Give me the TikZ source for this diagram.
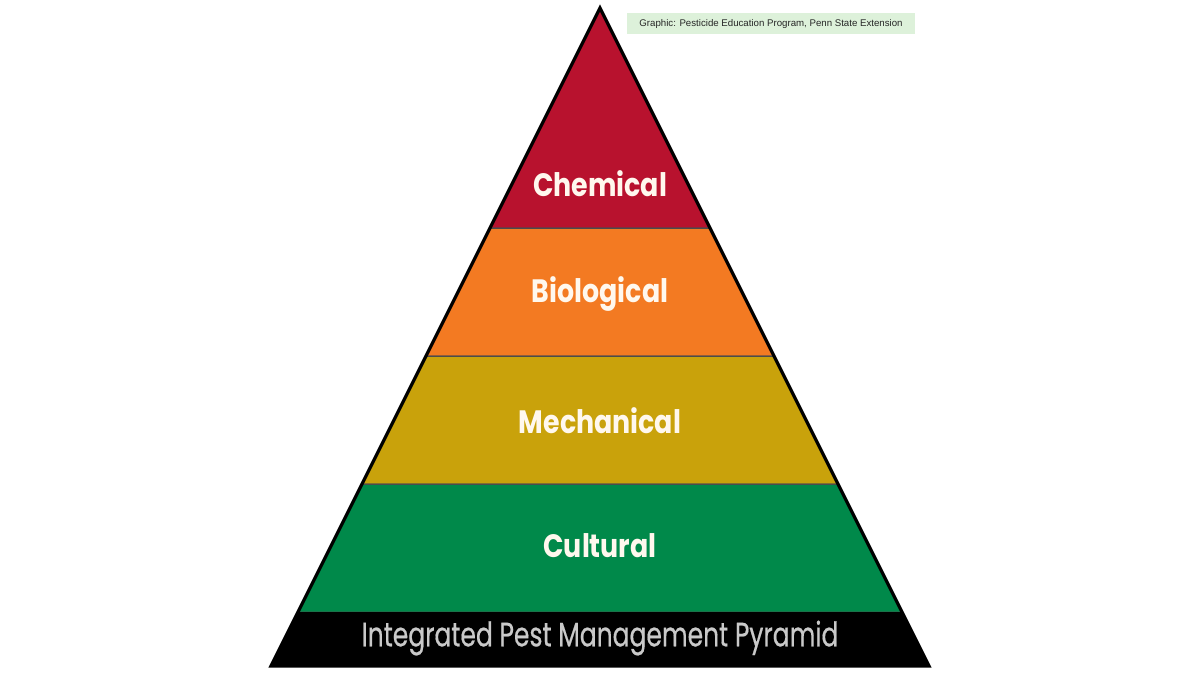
\documentclass[tikz,border=0pt]{standalone}
\usepackage{fontspec}
\newfontfamily\popfont{Poppins}
\newfontfamily\popmid[FakeBold=0.6]{Poppins}
\newfontfamily\credfont{Liberation Sans}
\definecolor{cRed}{HTML}{B8122E}
\definecolor{cOrange}{HTML}{F37A22}
\definecolor{cMustard}{HTML}{C9A20B}
\definecolor{cGreen}{HTML}{00894A}
\definecolor{cText}{HTML}{FFF8EE}
\definecolor{cGrey}{HTML}{C9C9C9}
\definecolor{cCredit}{HTML}{DDF1DA}
\begin{document}
\begin{tikzpicture}[x=0.01cm,y=-0.01cm,
  band/.style={draw=black!70,line width=0.25pt},
  tier/.style={text=cText,font=\popfont\bfseries\fontsize{9.2}{10}\selectfont,inner sep=0pt,xscale=0.83},
  title/.style={text=cGrey,font=\popmid\fontsize{9.6}{10}\selectfont,inner sep=0pt,xscale=0.74},
  credit/.style={fill=cCredit,font=\credfont\fontsize{2.75}{3}\selectfont,text=black!85,minimum width=2.87cm,minimum height=0.21cm,inner sep=0pt}]
\useasboundingbox (0,0) rectangle (1200,675);
\fill[white] (0,0) rectangle (1200,675);
% bands
\fill[band,fill=cRed] (600,8) -- (710,228) -- (490,228) -- cycle;
\fill[band,fill=cOrange] (490,228) -- (710,228) -- (774,356) -- (426,356) -- cycle;
\fill[band,fill=cMustard] (426,356) -- (774,356) -- (838,484) -- (362,484) -- cycle;
\fill[band,fill=cGreen] (362,484) -- (838,484) -- (902,612) -- (298,612) -- cycle;
\fill[black] (298,612) -- (902,612) -- (929,666) -- (271,666) -- cycle;
\draw[band] (490,228) -- (710,228) (426,356) -- (774,356) (362,484) -- (838,484);
\draw[line width=0.9pt,line join=miter] (600,8) -- (929,666) -- (271,666) -- cycle;
% labels
\node[tier] (chem) at (600,184) {Chemical};
\node[tier] (bio) at (600,294) {Biological};
\node[tier] (mech) at (600,421) {Mechanical};
\node[tier] (cult) at (600,546) {Cultural};
\node[title] (ipm) at (600,638) {Integrated Pest Management Pyramid};
\node[credit] (cred) at (771,23.5) {Graphic: Pesticide Education Program, Penn State Extension};
\end{tikzpicture}
\end{document}
